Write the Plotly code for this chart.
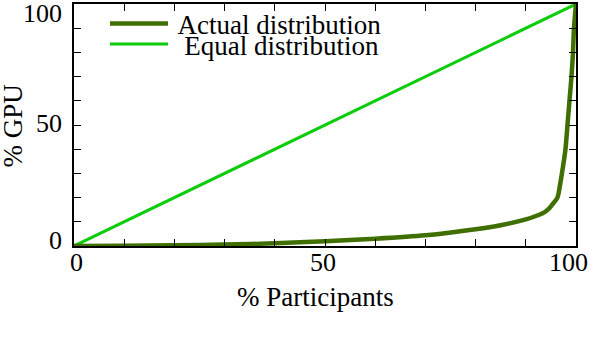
import plotly.graph_objects as go

# Data (Lorenz curve)
pct_participants = [0, 10, 20, 30, 40, 50, 60, 70, 80, 85, 90, 92, 93.6, 94.5, 95.3, 96.3, 96.8, 97.2, 97.9, 98.3, 98.7, 99.1, 99.4, 99.6, 100]
pct_gpu_actual = [0, 0.1, 0.3, 0.6, 1.1, 2.0, 3.0, 4.4, 6.9, 8.6, 11.0, 12.4, 13.8, 15.2, 17.2, 20, 25, 30, 40, 50, 60, 70, 80, 90, 100]
equal_x = [0, 100]
equal_y = [0, 100]

tick_vals = list(range(0, 101, 10))          # tick marks every 10
label_vals = [0, 50, 100]                     # labelled ticks
label_text = ["0", "50", "100"]

FONT = "Liberation Serif"
FS = 26
FS_T = 27

fig = go.Figure()
fig.add_trace(go.Scatter(x=equal_x, y=equal_y, mode="lines", name="\u2006\u00a0Equal distribution",
                         line=dict(color="#0ccc0c", width=3), legend="legend2"))
fig.add_trace(go.Scatter(x=pct_participants, y=pct_gpu_actual, mode="lines", name="\u2006Actual distribution",
                         line=dict(color="#3f6f00", width=4.5, shape="spline", smoothing=0.8), legend="legend"))

axis_common = dict(showline=True, linecolor="black", linewidth=1.5, mirror="allticks",
                   ticks="inside", ticklen=7, tickwidth=1.2, tickcolor="black",
                   showgrid=False, zeroline=False, automargin=False,
                   tickvals=tick_vals, showticklabels=False, range=[0, 100])

# tick labels (gnuplot nudges the end labels inward)
x_label_shift = [2, -2, -7.5]
y_label_shift = [5.5, 1.5, -9.5]
annotations = []
for v, t, s in zip(label_vals, label_text, x_label_shift):
    annotations.append(dict(text=t, xref="x", yref="paper", x=v, y=0, yshift=-16, xshift=s,
                            xanchor="center", yanchor="middle", showarrow=False,
                            font=dict(family=FONT, size=FS, color="black")))
for v, t, s in zip(label_vals, label_text, y_label_shift):
    annotations.append(dict(text=t, xref="paper", yref="y", x=0, y=v, xshift=-10, yshift=s,
                            xanchor="right", yanchor="middle", showarrow=False,
                            font=dict(family=FONT, size=FS, color="black")))
annotations += [
    dict(text="% Participants", xref="paper", yref="paper", x=0.482, y=-0.2116,
         xanchor="center", yanchor="middle", showarrow=False,
         font=dict(family=FONT, size=FS_T, color="black")),
    dict(text="% GPU", xref="paper", yref="paper", x=-0.1215, y=0.494,
         xanchor="center", yanchor="middle", textangle=-90, showarrow=False,
         font=dict(family=FONT, size=FS_T, color="black")),
]

fig.update_layout(
    width=590, height=338,
    margin=dict(l=74, r=14, t=4, b=92, autoexpand=False),
    paper_bgcolor="white", plot_bgcolor="white",
    font=dict(family=FONT, size=FS, color="black"),
    xaxis=axis_common,
    yaxis=axis_common,
    legend=dict(x=0.0618, y=1.0187, xanchor="left", yanchor="top", bgcolor="rgba(0,0,0,0)",
                font=dict(family=FONT, size=FS_T), itemwidth=58, borderwidth=0),
    legend2=dict(x=0.0618, y=0.9336, xanchor="left", yanchor="top", bgcolor="rgba(0,0,0,0)",
                 font=dict(family=FONT, size=FS_T), itemwidth=58, borderwidth=0),
    showlegend=True,
    annotations=annotations,
)

fig.write_html("out.html", config={"displayModeBar": False},
               post_script="document.body.style.margin='0';document.body.style.padding='0';")
